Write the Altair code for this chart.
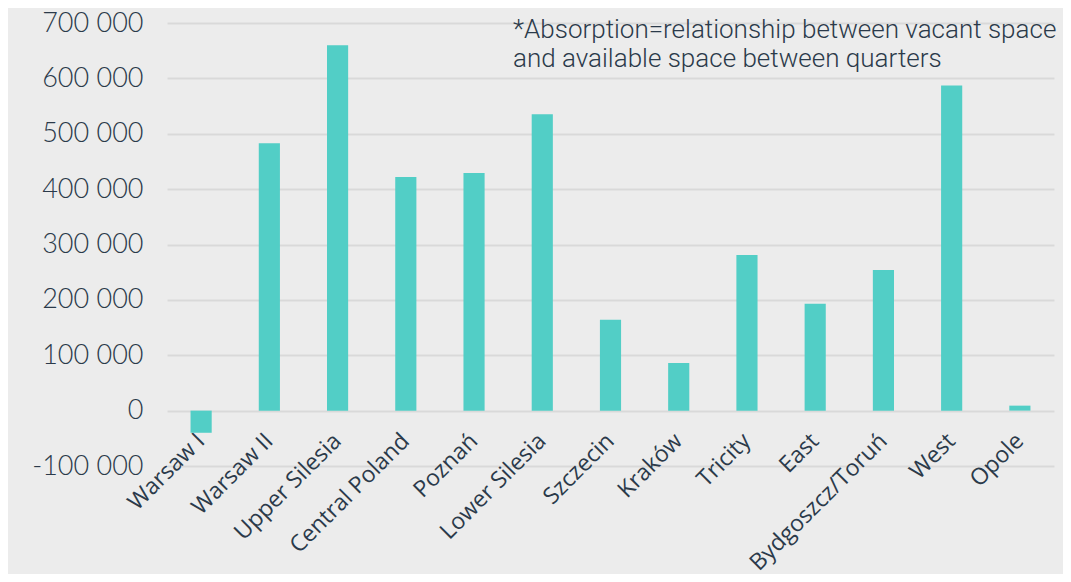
import altair as alt
import pandas as pd

regions = ["Warsaw I", "Warsaw II", "Upper Silesia", "Central Poland", "Poznań",
           "Lower Silesia", "Szczecin", "Kraków", "Tricity", "East",
           "Bydgoszcz/Toruń", "West", "Opole"]
absorption = [-40000, 483000, 660000, 422000, 429000, 535000, 164000, 86000,
              281000, 193000, 254000, 587000, 9000]
y_ticks = [-100000, 0, 100000, 200000, 300000, 400000, 500000, 600000, 700000]
note_lines = ["*Absorption=relationship between vacant space",
              "and available space between quarters"]

df = pd.DataFrame({"region": regions, "value": absorption})

W, H = 887, 443
TEXT = "#2b3a4a"

bars = alt.Chart(df).mark_bar(color="#52cec6").encode(
    x=alt.X("region:N", sort=regions,
            scale=alt.Scale(paddingInner=0.69, paddingOuter=0.345),
            axis=alt.Axis(title=None, labelAngle=-45, labelFont="Open Sans",
                          labelFontSize=23, labelColor=TEXT, ticks=False,
                          labelBaseline="middle", labelAlign="right",
                          domain=False, offset=-55, labelPadding=26,
                          labelOverlap=False, grid=False, labelLimit=400)),
    y=alt.Y("value:Q",
            scale=alt.Scale(domain=[-100000, 700000], nice=False, zero=False),
            axis=alt.Axis(title=None, values=y_ticks, ticks=False, domain=False,
                          labelFont="Lato", labelFontSize=27, labelFontWeight=300,
                          labelColor=TEXT,
                          labelPadding=24, gridColor="#d9d9d9", gridWidth=2,
                          labelExpr="(datum.value < 0 ? '-' : '') + replace(format(abs(datum.value), ','), ',', ' ')")),
)

note = alt.Chart(pd.DataFrame({"t": [0]})).mark_text(
    text=note_lines, align="left", baseline="alphabetic", font="Roboto",
    fontSize=26, fontWeight=300, lineHeight=29, color=TEXT
).encode(x=alt.value(346), y=alt.value(15))

chart = alt.layer(bars, note).properties(
    width=W, height=H,
    background="#ececec",
    autosize=alt.AutoSizeParams(type="none"),
    padding={"left": 159, "top": 15, "right": 9, "bottom": 108},
).configure_view(stroke=None)

chart.save("out.html", embed_options={"renderer": "svg", "actions": False})
